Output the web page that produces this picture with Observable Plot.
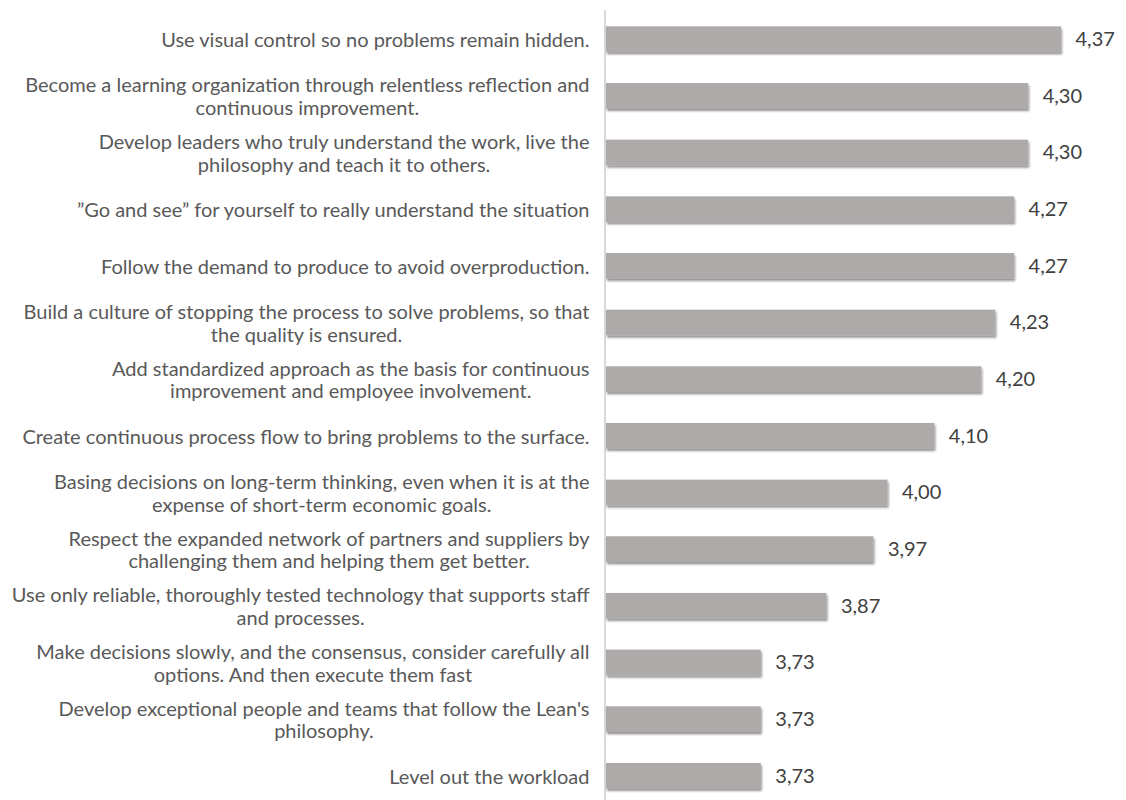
<!DOCTYPE html>
<html>
<head>
<meta charset="utf-8">
<script src="https://cdn.jsdelivr.net/npm/d3@7"></script>
<script src="https://cdn.jsdelivr.net/npm/@observablehq/plot@0.6"></script>
<style>
  html, body { margin: 0; padding: 0; background: #ffffff; }
  #chart { width: 1126px; height: 800px; }
</style>
</head>
<body>
<div id="chart"></div>
<script>
const categories = [
  "Use visual control so no problems remain hidden.",
  "Become a learning organization through relentless reflection and\ncontinuous improvement.",
  "Develop leaders who truly understand the work, live the\nphilosophy and teach it to others.",
  "\u201DGo and see\u201D for yourself to really understand the situation",
  "Follow the demand to produce to avoid overproduction.",
  "Build a culture of stopping the process to solve problems, so that\nthe quality is ensured.",
  "Add standardized approach as the basis for continuous\nimprovement and employee involvement.",
  "Create continuous process flow to bring problems to the surface.",
  "Basing decisions on long-term thinking, even when it is at the\nexpense of short-term economic goals.",
  "Respect the expanded network of partners and suppliers by\nchallenging them and helping them get better.",
  "Use only reliable, thoroughly tested technology that supports staff\nand processes.",
  "Make decisions slowly, and the consensus, consider carefully all\noptions. And then execute them fast",
  "Develop exceptional people and teams that follow the Lean's\nphilosophy.",
  "Level out the workload"
];
const values = [4.37, 4.30, 4.30, 4.27, 4.27, 4.23, 4.20, 4.10, 4.00, 3.97, 3.87, 3.73, 3.73, 3.73];
const axisMin = 3.4;
const axisMax = 4.5;

const data = categories.map((c, i) => ({category: c, value: values[i]}));
const fmt = v => d3.format(".2f")(v).replace(".", ",");

const chart = Plot.plot({
  width: 1126,
  height: 800,
  marginLeft: 606,
  marginRight: 4,
  marginTop: 15,
  marginBottom: 0,
  style: {fontFamily: "Lato, 'Open Sans', sans-serif", background: "#ffffff"},
  x: {domain: [axisMin, axisMax], axis: null},
  y: {domain: categories, axis: null, padding: 0.546, paddingOuter: 0.2, round: false},
  marks: [
    Plot.ruleX([axisMin], {stroke: "#d9d9d9", strokeWidth: 2, dx: -1.5, insetTop: -5}),
    Plot.barX(data, {x1: axisMin, x2: "value", y: "category", fill: "#aeaaaa"}),
    Plot.text(data, {
      x: "value", y: "category", text: d => fmt(d.value),
      textAnchor: "start", dx: 14, fontSize: 20, fill: "#404040"
    }),
    Plot.text(data, {
      x: axisMin, y: "category", text: "category",
      textAnchor: "end", dx: -17, fontSize: 20, lineHeight: 1.13, fill: "#595959"
    })
  ]
});

document.getElementById("chart").appendChild(chart);

// drop shadow for bars (as in the reference)
const ns = "http://www.w3.org/2000/svg";
const defs = document.createElementNS(ns, "defs");
defs.innerHTML = '<filter id="barShadow" x="-5%" y="-30%" width="115%" height="180%">' +
  '<feDropShadow dx="1" dy="2.2" stdDeviation="1.2" flood-color="#000" flood-opacity="0.45"/></filter>';
chart.insertBefore(defs, chart.firstChild);
const barG = chart.querySelector('g[aria-label="bar"]');
if (barG) barG.setAttribute("filter", "url(#barShadow)");

// center wrapped category lines within their right-aligned block
const textGroups = chart.querySelectorAll('g[aria-label="text"]');
const labelG = textGroups[textGroups.length - 1];
labelG.querySelectorAll("text").forEach(t => {
  const spans = t.querySelectorAll("tspan");
  if (spans.length > 1) {
    let maxW = 0;
    spans.forEach(s => { maxW = Math.max(maxW, s.getComputedTextLength()); });
    t.setAttribute("text-anchor", "middle");
    spans.forEach(s => s.setAttribute("x", -maxW / 2));
  }
});
</script>
</body>
</html>
